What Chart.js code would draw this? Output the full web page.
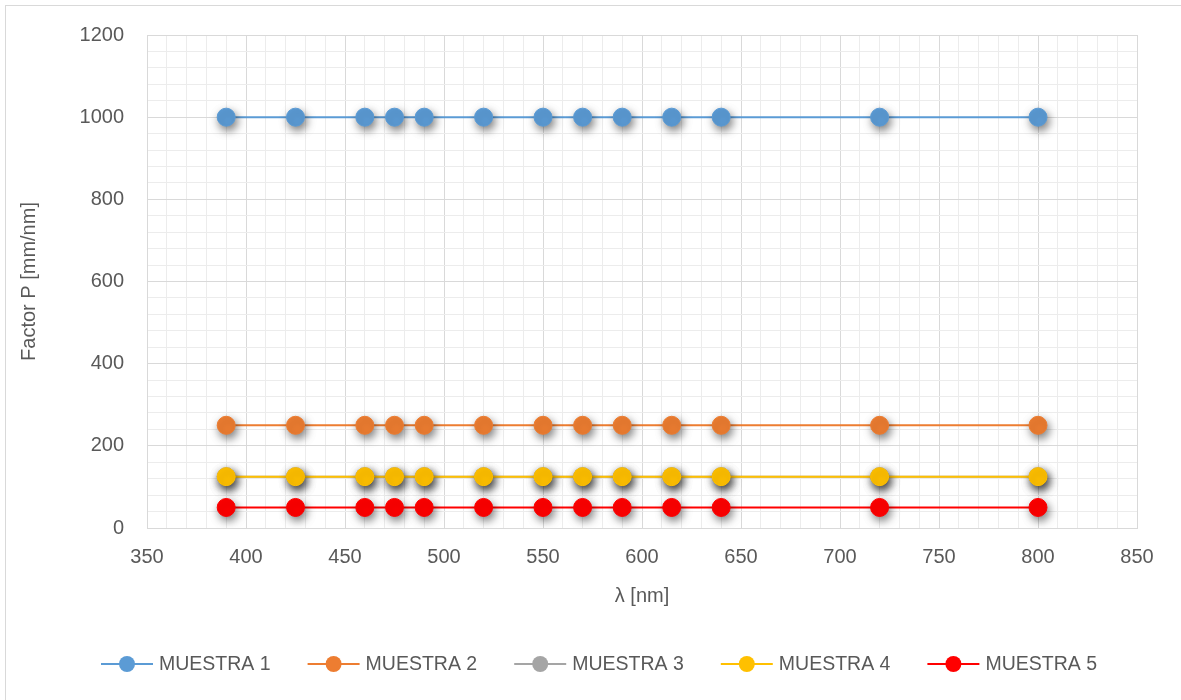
<!DOCTYPE html>
<html>
<head>
<meta charset="utf-8">
<script src="https://cdn.jsdelivr.net/npm/chart.js@4.4.1/dist/chart.umd.min.js"></script>
<style>
  html, body { margin: 0; padding: 0; background: #ffffff; }
  #wrap { position: absolute; left: 0; top: 0; width: 1181px; height: 700px; }
</style>
</head>
<body>
<div id="wrap"><canvas id="c" width="1181" height="700"></canvas></div>
<script>
// ---- Data ----
const wavelengths = [390, 425, 460, 475, 490, 520, 550, 570, 590, 615, 640, 720, 800];
const muestra1 = [1000, 1000, 1000, 1000, 1000, 1000, 1000, 1000, 1000, 1000, 1000, 1000, 1000];
const muestra2 = [250, 250, 250, 250, 250, 250, 250, 250, 250, 250, 250, 250, 250];
const muestra3 = [125, 125, 125, 125, 125, 125, 125, 125, 125, 125, 125, 125, 125];
const muestra4 = [125, 125, 125, 125, 125, 125, 125, 125, 125, 125, 125, 125, 125];
const muestra5 = [50, 50, 50, 50, 50, 50, 50, 50, 50, 50, 50, 50, 50];
const seriesNames = ['MUESTRA 1', 'MUESTRA 2', 'MUESTRA 3', 'MUESTRA 4', 'MUESTRA 5'];
const seriesValues = [muestra1, muestra2, muestra3, muestra4, muestra5];
const seriesColors = ['#5B9BD5', '#ED7D31', '#A5A5A5', '#FFC000', '#FF0000'];
const xTitle = 'λ [nm]';
const yTitle = 'Factor P [mm/nm]';

const FONT = "'Liberation Sans', Arial, sans-serif";
const TEXT = '#595959';

// marker shadow (points only)
const origPointDraw = Chart.PointElement.prototype.draw;
Chart.PointElement.prototype.draw = function (ctx, area) {
  ctx.save();
  ctx.shadowColor = 'rgba(0,0,0,0.5)';
  ctx.shadowBlur = 8;
  ctx.shadowOffsetX = 2;
  ctx.shadowOffsetY = 4;
  origPointDraw.call(this, ctx, area);
  ctx.restore();
};

const datasets = seriesNames.map((name, i) => ({
  label: name,
  data: wavelengths.map((x, j) => ({ x: x, y: seriesValues[i][j] })),
  showLine: true,
  borderColor: seriesColors[i],
  backgroundColor: seriesColors[i],
  borderWidth: 2,
  pointRadius: 9,
  pointHoverRadius: 9,
  pointBorderWidth: 1,
  pointBorderColor: seriesColors[i],
  pointBackgroundColor: seriesColors[i],
  order: 5 - i
}));

const frameAndLegend = {
  id: 'frameAndLegend',
  beforeDraw(chart) {
    const ctx = chart.ctx;
    ctx.save();
    ctx.fillStyle = '#ffffff';
    ctx.fillRect(0, 0, chart.width, chart.height);
    ctx.strokeStyle = '#d9d9d9';
    ctx.lineWidth = 1;
    ctx.strokeRect(5.5, 5.5, 1300, 800);
    ctx.restore();
  },
  afterDraw(chart) {
    const ctx = chart.ctx;
    ctx.save();
    ctx.font = '19.5px ' + FONT;
    const lineW = 52, gapText = 6, gapItem = 37;
    const widths = seriesNames.map(n => lineW + gapText + ctx.measureText(n).width);
    const total = widths.reduce((a, b) => a + b, 0) + gapItem * (widths.length - 1);
    let x = 599 - total / 2;
    const y = 664;
    seriesNames.forEach((n, i) => {
      ctx.strokeStyle = seriesColors[i];
      ctx.lineWidth = 2;
      ctx.beginPath();
      ctx.moveTo(x, y);
      ctx.lineTo(x + lineW, y);
      ctx.stroke();
      ctx.fillStyle = seriesColors[i];
      ctx.beginPath();
      ctx.arc(x + lineW / 2, y, 8, 0, Math.PI * 2);
      ctx.fill();
      ctx.fillStyle = TEXT;
      ctx.textBaseline = 'middle';
      ctx.textAlign = 'left';
      ctx.fillText(n, x + lineW + gapText, y + 1);
      x += widths[i] + gapItem;
    });
    ctx.restore();
  }
};

new Chart(document.getElementById('c'), {
  type: 'scatter',
  data: { datasets: datasets },
  options: {
    responsive: false,
    animation: false,
    events: [],
    layout: { padding: { left: 17, right: 44, top: 35, bottom: 92 } },
    plugins: { legend: { display: false }, tooltip: { enabled: false } },
    scales: {
      x: {
        type: 'linear',
        min: 350, max: 850,
        afterFit: s => { s.height = 80; },
        ticks: {
          stepSize: 10, autoSkip: false, maxRotation: 0, minRotation: 0,
          padding: 17,
          color: TEXT,
          font: { family: FONT, size: 20 },
          callback: v => (v % 50 === 0 ? String(v) : '')
        },
        grid: {
          drawTicks: false,
          color: c => (c.tick && c.tick.value % 50 === 0 ? '#d9d9d9' : '#ececec'),
          lineWidth: 1
        },
        border: { display: true, color: '#d9d9d9' },
        title: {
          display: true, text: xTitle, color: TEXT,
          font: { family: FONT, size: 20 }, padding: 0
        }
      },
      y: {
        type: 'linear',
        min: 0, max: 1200,
        afterFit: s => { s.width = 130; },
        ticks: {
          stepSize: 40, autoSkip: false,
          padding: 23,
          color: TEXT,
          font: { family: FONT, size: 20 },
          callback: v => (v % 200 === 0 ? String(v) : '')
        },
        grid: {
          drawTicks: false,
          color: c => (c.tick && c.tick.value % 200 === 0 ? '#d9d9d9' : '#ececec'),
          lineWidth: 1
        },
        border: { display: true, color: '#d9d9d9' },
        title: {
          display: true, text: yTitle, color: TEXT,
          font: { family: FONT, size: 20 }, padding: 0
        }
      }
    }
  },
  plugins: [frameAndLegend]
});
</script>
</body>
</html>
